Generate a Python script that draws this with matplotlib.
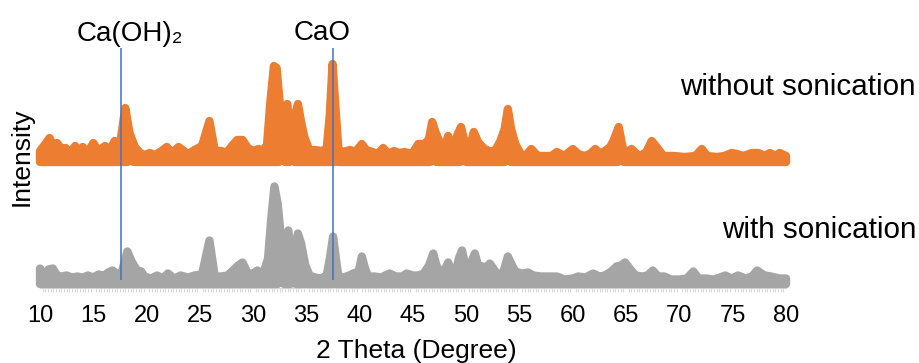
import numpy as np
import matplotlib.pyplot as plt

plt.rcParams['font.family'] = ['Liberation Sans', 'DejaVu Sans']

# without sonication - upper edge of the noisy trace
o_x = [10.0, 10.5, 10.9, 11.3, 11.6, 12.0, 12.4, 12.8, 13.3, 13.7, 14.0, 14.5, 15.0, 15.5, 16.1, 16.6,
       17.0, 17.5, 18.0, 18.4, 18.9, 19.4, 19.8, 20.3, 20.8, 21.4, 21.9, 22.4, 23.0, 23.5, 23.9, 24.5,
       25.2, 25.9, 26.4, 27.0, 27.5, 28.0, 28.5, 29.0, 29.5, 30.0, 30.5, 30.9, 31.3, 31.6, 31.95, 32.2,
       32.45, 32.7, 33.2, 33.6, 33.85, 34.2, 34.5, 34.8, 35.3, 35.8, 36.4, 36.9, 37.2, 37.45, 37.7, 38.0,
       38.4, 39.1, 39.6, 40.2, 40.6, 41.2, 41.7, 42.2, 42.7, 43.2, 43.7, 44.2, 44.9, 45.5, 46.1, 46.5,
       46.8, 47.1, 47.5, 47.9, 48.3, 48.7, 49.2, 49.5, 49.9, 50.2, 50.7, 51.1, 51.7, 52.4, 52.8, 53.2,
       53.6, 53.9, 54.2, 54.6, 55.2, 55.7, 56.1, 56.7, 57.4, 58.0, 58.5, 59.2, 60.0, 60.5, 61.1, 61.6,
       62.1, 62.6, 63.0, 63.5, 63.8, 64.3, 64.7, 65.1, 65.5, 66.0, 66.3, 66.9, 67.4, 68.0, 68.5, 69.5,
       70.5, 71.5, 72.1, 72.6, 73.5, 74.2, 74.9, 75.4, 76.0, 76.8, 77.4, 78.0, 78.5, 79.0, 79.4, 80.0]
o_y = [137, 144, 150, 140, 145, 139, 140, 135, 142, 135, 141, 135, 145, 137, 142, 138,
       147, 143, 180, 155, 141, 135, 133, 135, 133, 137, 141, 135, 141, 137, 134, 138,
       142, 167, 137, 137, 135, 142, 148, 148, 140, 137, 139, 137, 143, 184, 222, 220,
       190, 162, 184, 146, 169, 184, 166, 151, 137, 138, 137, 139, 174, 224, 184, 139,
       136, 138, 136, 144, 138, 136, 134, 140, 134, 137, 135, 136, 134, 144, 144, 149,
       166, 156, 146, 139, 152, 136, 154, 161, 144, 134, 156, 146, 139, 136, 139, 147,
       159, 179, 159, 144, 132, 134, 139, 132, 132, 132, 136, 132, 139, 134, 132, 134,
       139, 134, 137, 141, 147, 161, 139, 136, 139, 134, 132, 136, 147, 139, 132, 132,
       131, 132, 139, 132, 131, 132, 135, 134, 132, 135, 135, 132, 135, 132, 135, 132]
# lower edge
o_lx = [10, 18.2, 18.5, 18.8, 32.4, 32.7, 33.0, 33.4, 33.65, 33.9, 37.7, 37.9, 38.1, 46.6, 46.9, 47.2,
        49.4, 49.7, 50.0, 53.6, 53.9, 54.2, 64.2, 64.5, 64.8, 80]
o_ly = [126, 126, 132, 126, 126, 135, 126, 126, 133, 126, 126, 131, 126, 126, 130, 126,
        126, 130, 126, 126, 130, 126, 126, 131, 126, 126]

# with sonication
g_x = [10.0, 10.4, 10.8, 11.2, 11.6, 12.0, 12.5, 13.0, 13.5, 14.0, 14.5, 15.0, 15.5, 16.0, 16.4, 16.8,
       17.3, 17.7, 18.2, 18.6, 19.1, 19.5, 19.8, 20.4, 21.0, 21.5, 22.0, 22.6, 23.2, 23.9, 24.5, 25.2,
       25.9, 26.4, 27.0, 27.6, 28.1, 28.6, 29.0, 29.5, 30.0, 30.4, 30.9, 31.4, 31.7, 32.0, 32.3, 32.5,
       32.8, 33.3, 33.7, 34.2, 34.5, 34.9, 35.3, 35.8, 36.4, 36.9, 37.2, 37.5, 37.8, 38.0, 38.5, 39.0,
       39.4, 39.9, 40.2, 40.5, 40.8, 41.4, 42.0, 42.8, 43.4, 44.0, 44.4, 45.0, 45.5, 46.0, 46.5, 46.9,
       47.2, 47.5, 48.0, 48.3, 48.7, 49.0, 49.3, 49.6, 49.9, 50.2, 50.5, 50.8, 51.1, 51.5, 51.9, 52.2,
       52.6, 53.0, 53.5, 53.9, 54.3, 54.6, 55.2, 55.8, 56.3, 57.0, 57.8, 58.5, 59.2, 60.0, 60.5, 61.2,
       61.9, 62.5, 63.0, 63.6, 64.1, 64.5, 64.9, 65.4, 65.9, 66.5, 67.0, 67.5, 68.0, 68.6, 69.2, 70.0,
       70.7, 71.3, 71.8, 72.5, 73.2, 73.8, 74.3, 74.9, 75.5, 76.2, 76.8, 77.3, 77.7, 78.0, 78.6, 79.4, 80.0]
g_y = [19.5, 12.5, 18.5, 19.5, 12.5, 11.5, 12.5, 10.5, 11.5, 10.5, 12.5, 10.5, 13.5, 12.5, 15.5, 17.5,
       13.5, 16.5, 36.5, 26.5, 17.5, 16.5, 11.5, 9.5, 12.5, 9.5, 14.5, 9.5, 12.5, 10.5, 12.5, 13.5,
       47.5, 11.5, 11.5, 12.5, 17.5, 22.5, 25.5, 14.5, 14.5, 17.5, 12.5, 29.5, 69.5, 101.5, 84.5, 62.5,
       26.5, 57.5, 22.5, 54.5, 44.5, 22.5, 12.5, 10.5, 9.5, 12.5, 29.5, 51.5, 26.5, 11.5, 10.5, 12.5,
       14.5, 16.5, 31.5, 19.5, 11.5, 11.5, 10.5, 14.5, 11.5, 11.5, 14.5, 12.5, 12.5, 14.5, 22.5, 34.5,
       22.5, 16.5, 18.5, 25.5, 14.5, 14.5, 29.5, 37.5, 22.5, 16.5, 26.5, 34.5, 22.5, 21.5, 20.5, 24.5,
       18.5, 12.5, 16.5, 31.5, 22.5, 16.5, 14.5, 15.5, 12.5, 11.5, 11.5, 11.5, 8.5, 9.5, 11.5, 10.5,
       14.5, 11.5, 12.5, 16.5, 21.5, 22.5, 25.5, 18.5, 12.5, 11.5, 12.5, 17.5, 11.5, 11.5, 8.5, 8.5,
       9.5, 16.5, 9.5, 9.5, 8.5, 10.5, 12.5, 9.5, 12.5, 9.5, 11.5, 17.5, 14.5, 12.5, 11.5, 9.5, 9.5]
g_lx = [10, 32.3, 32.6, 32.9, 33.5, 33.75, 34.0, 34.6, 34.8, 35.0, 37.4, 37.6, 37.8, 80]
g_ly = [4, 4, 11, 4, 4, 12, 4, 4, 10, 4, 4, 9, 4, 4]

# reference lines
ref_x = [17.6, 37.5]
ref_lab = ['Ca(OH)\u2082', 'CaO']

fig = plt.figure(figsize=(9.19, 3.63), dpi=100)
ax = fig.add_axes([40/919, 75/363, 746/919, 240/363])

for ux, uy, lx, ly, c in [(o_x, o_y, o_lx, o_ly, '#ED7D31'), (g_x, g_y, g_lx, g_ly, '#A5A5A5')]:
    px = np.r_[ux, lx[::-1]]
    py = np.r_[uy, ly[::-1]]
    ax.fill(px, py, facecolor=c, edgecolor=c, lw=6, joinstyle='round', clip_on=False, zorder=3)

ax.vlines(ref_x, 8, 240, color='#4472C4', lw=1.1, zorder=4, clip_on=False)
ax.text(ref_x[0] + 0.8, 241, ref_lab[0], ha='center', va='bottom', fontsize=20)
ax.text(ref_x[1] - 1.0, 242, ref_lab[1], ha='center', va='bottom', fontsize=20)

fig.text(916/919, 1 - 95/363, 'without sonication', ha='right', va='baseline', fontsize=21.3)
fig.text(916/919, 1 - 238/363, 'with sonication', ha='right', va='baseline', fontsize=21.3)

ax.set_xlim(10, 80)
ax.set_ylim(0, 240)
ax.set_xticks(range(10, 81, 5))
ax.set_xticks(np.arange(10, 80.01, 0.25), minor=True)
ax.tick_params(axis='x', which='major', length=0, pad=12, labelsize=17)
ax.tick_params(axis='x', which='minor', length=3, color='#d9d9d9', width=0.8)
ax.set_yticks([])
for s in ['top', 'right', 'left']:
    ax.spines[s].set_visible(False)
ax.spines['bottom'].set_color('#d9d9d9')

fig.text(416/919, 1 - 351/363, '2 Theta (Degree)', ha='center', va='center', fontsize=19)
fig.text(22/919, 1 - 157/363, 'Intensity', ha='center', va='center', rotation=90, fontsize=19)

fig.savefig('out.png', dpi=100)
